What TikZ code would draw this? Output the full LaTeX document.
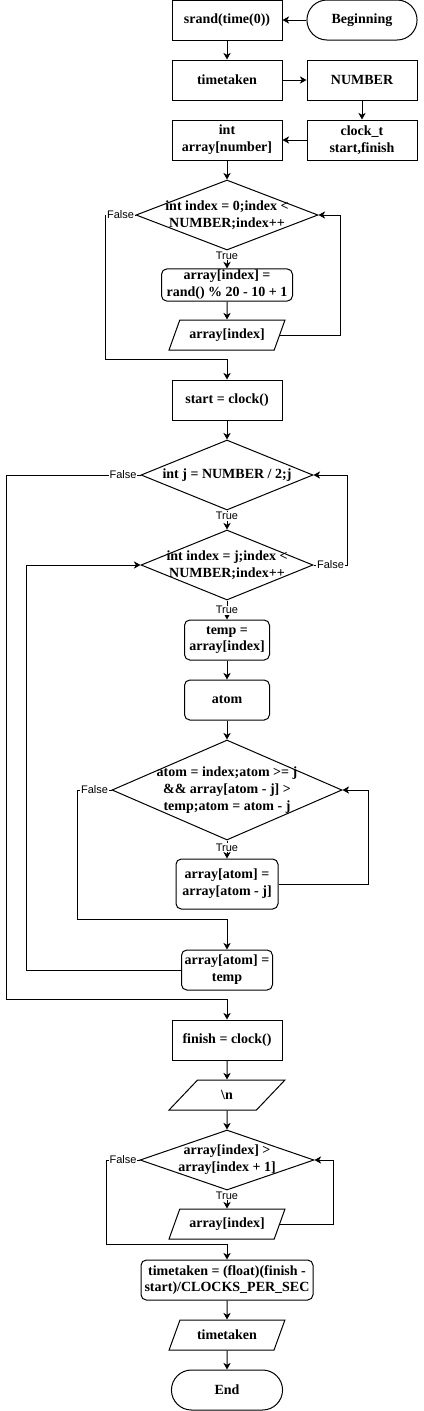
\documentclass[tikz,border=0pt]{standalone}
\usepackage{fontspec}
\setmainfont{Liberation Serif}
\newfontfamily\edgefont{Liberation Sans}
\usetikzlibrary{shapes.geometric,shapes.misc,arrows.meta,calc}

\begin{document}
\begin{tikzpicture}[
    x=0.75pt, y=-0.75pt,
    every node/.style={font=\bfseries\fontsize{10.5}{12.6}\selectfont, align=center},
    box/.style={
        rectangle, draw, line width=0.75pt, minimum width=82.5pt,
        minimum height=30pt, inner sep=1pt
    },
    rbox/.style={box, rounded corners=4pt},
    term/.style={rounded rectangle, draw, line width=0.75pt, minimum height=30pt},
    io/.style={
        trapezium, trapezium left angle=60, trapezium right angle=120,
        trapezium stretches=true, draw, line width=0.75pt,
        minimum width=87pt, minimum height=22.5pt, inner sep=1pt
    },
    test/.style={diamond, draw, line width=0.75pt, inner xsep=-6pt, inner ysep=-2pt},
    flow/.style={draw, line width=0.75pt, -{Stealth[length=5pt,width=5.5pt,inset=1.5pt]}},
    lbl/.style={font=\edgefont\fontsize{8.25}{9}\selectfont, fill=white, inner sep=0.5pt}
]
\useasboundingbox (0,0) rectangle (424,1411);
\def\colx{227}

% --- set-up
\node[term, minimum width=89.25pt] (begin) at (362,20) {Beginning};
\node[box] (srand) at (\colx,20) {srand(time(0))};
\node[box] (tt) at (\colx,80) {timetaken};
\node[box] (num) at (362,80) {NUMBER};
\node[box] (clk) at (362,140) {clock\_t\\start,finish};
\node[box] (arr) at (\colx,140) {int\\array[number]};

% --- fill loop
\node[test, aspect=2.6, minimum width=136.5pt, minimum height=52.5pt] (d1) at (\colx,215)
    {int index = 0;index <\\NUMBER;index++};
\node[rbox, minimum width=98.25pt, minimum height=22.5pt] (fill) at (\colx,285)
    {array[index] =\\rand() \% 20 - 10 + 1};
\node[io] (out1) at (\colx,335) {array[index]};
\node[box] (start) at (\colx,400) {start = clock()};

% --- shell sort
\node[test, aspect=2.46, minimum width=129pt, minimum height=52.5pt] (d2) at (\colx,475)
    {int j = NUMBER / 2;j};
\node[test, aspect=2.46, minimum width=129pt, minimum height=52.5pt] (d3) at (\colx,565)
    {int index = j;index <\\NUMBER;index++};
\node[rbox, minimum width=63.75pt] (temp) at (\colx,640) {temp =\\array[index]};
\node[rbox, minimum width=63.75pt] (atom) at (\colx,700) {atom};
\node[test, aspect=2.3, minimum width=172.5pt, minimum height=75pt, inner xsep=-8pt] (d4) at (\colx,790)
    {atom = index;atom >= j\\\&\& array[atom - j] >\\temp;atom = atom - j};
\node[rbox, minimum width=76.5pt, minimum height=37.5pt] (swap) at (\colx,884)
    {array[atom] =\\array[atom - j]};
\node[rbox, minimum width=68.25pt] (store) at (\colx,970) {array[atom] =\\temp};
\node[box] (finish) at (\colx,1040) {finish = clock()};

% --- output
\node[io] (nl) at (\colx,1095) {\textbackslash n};
\node[test, aspect=2.9, minimum width=130.5pt, minimum height=45pt] (d5) at (\colx,1160)
    {array[index] >\\array[index + 1]};
\node[io] (out2) at (\colx,1224) {array[index]};
\node[rbox, minimum width=129pt] (calc) at (\colx,1280)
    {timetaken = (float)(finish -\\start)/CLOCKS\_PER\_SEC};
\node[io] (out3) at (\colx,1335) {timetaken};
\node[term, minimum width=90pt] (stop) at (\colx,1390) {End};

% --- straight arrows
\foreach \a/\b in {begin/srand, srand/tt, tt/num, num/clk, clk/arr, arr/d1,
    fill/out1, start/d2, temp/atom, atom/d4, finish/nl, nl/d5, calc/out3, out3/stop}
  \draw[flow] (\a) -- (\b);

% True branches
\foreach \a/\b/\p in {d1/fill/0.3, d2/d3/0.3, d3/temp/0.5, d4/swap/0.4, d5/out2/0.3}
  \draw[flow] (\a) -- node[lbl, pos=\p] {True} (\b);

% loop backs
\draw[flow] (out1.east) -| ($(d1.east)+(22,0)$) -- (d1.east);
\draw[flow] (d3.east) -- node[lbl] {False} ++(34,0) |- (d2.east);
\draw[flow] (swap.east) -| ($(d4.east)+(26,0)$) -- (d4.east);
\draw[flow] (store.west) -| ($(d3.west)+(-114,0)$) -- (d3.west);
\draw[flow] (out2.east) -| ($(d5.east)+(19,0)$) -- (d5.east);

% False exits
\draw[flow] (d1.west) -- node[lbl] {False} ++(-30,0)
    |- ($(start.north)+(0,-20)$) -- (start.north);
\draw[flow] (d2.west) -- node[lbl, pos=0.13] {False} ++(-134,0)
    |- ($(finish.north)+(0,-20)$) -- (finish.north);
\draw[flow] (d4.west) -- node[lbl] {False} ++(-34,0)
    |- ($(store.north)+(0,-30)$) -- (store.north);
\draw[flow] (d5.west) -- node[lbl] {False} ++(-33,0)
    |- ($(calc.north)+(0,-15)$) -- (calc.north);
\end{tikzpicture}
\end{document}
